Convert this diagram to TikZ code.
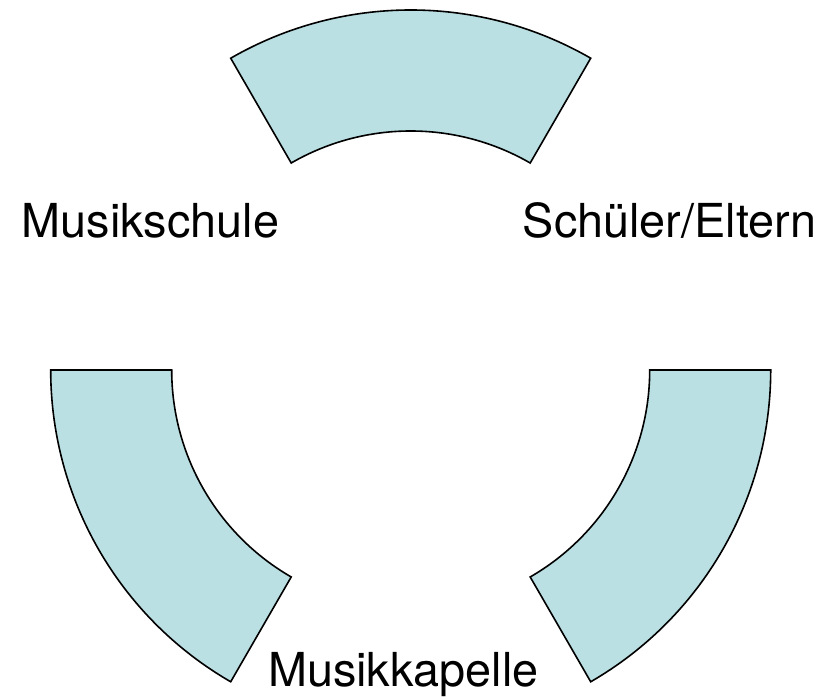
\documentclass[tikz,border=0pt]{standalone}
\usepackage{fontspec}
\setmainfont{TeX Gyre Heros}
\definecolor{arcfill}{RGB}{187,224,227}
\begin{document}
\begin{tikzpicture}[x=1pt,y=1pt,
  sector/.style={fill=arcfill,draw=black,line width=1.6pt,line join=miter},
  lbl/.style={inner sep=0pt,anchor=base west,font=\fontsize{46.8}{52}\selectfont}]
\useasboundingbox (0,0) rectangle (832,698);
\coordinate (c) at (410.7,328);
\foreach \a in {60,180,300}{
  \filldraw[sector] ([shift={(\a:360)}]c) arc[start angle=\a,end angle=\a+60,radius=360]
    -- ([shift={(\a+60:239)}]c) arc[start angle=\a+60,end angle=\a,radius=239] -- cycle;
}
\node[lbl] (schule) at (21.7,460.3) {Musikschule};
\node[lbl] (eltern) at (522.7,460.3) {Schüler/Eltern};
\node[lbl] (kapelle) at (268,11.3) {Musikkapelle};
\end{tikzpicture}
\end{document}
